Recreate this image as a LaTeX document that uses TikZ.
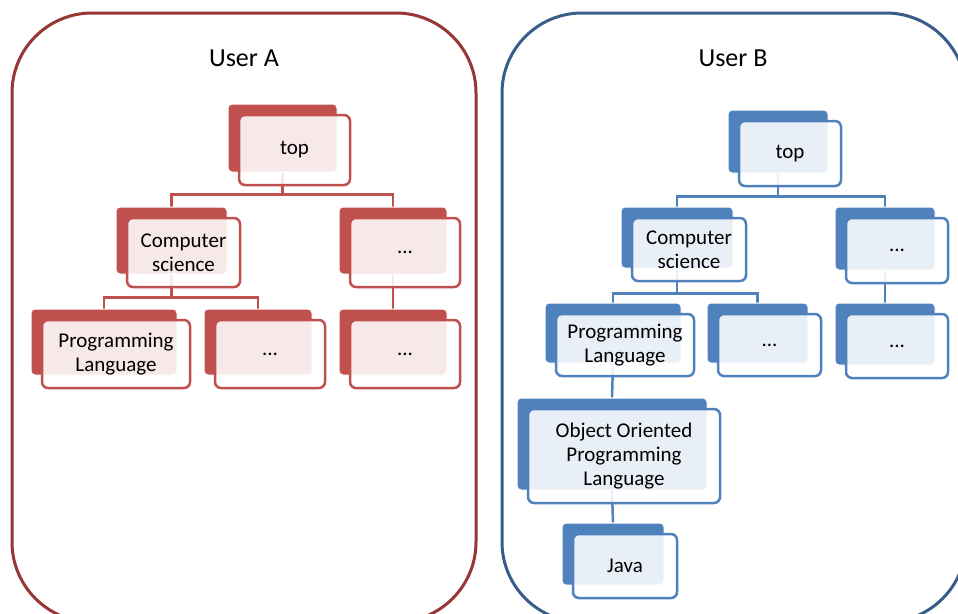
\documentclass[tikz,border=0pt]{standalone}
\usepackage{fontspec}
\setmainfont{Carlito}
\pgfdeclarelayer{bg}
\pgfsetlayers{bg,main}
\definecolor{redfill}{RGB}{192,80,77}
\definecolor{bluefill}{RGB}{79,129,189}
\definecolor{redframe}{RGB}{150,55,53}
\definecolor{blueframe}{RGB}{56,93,138}

\tikzset{
  backbox/.style={rectangle, rounded corners=4pt, draw=white, line width=1pt, inner sep=0pt},
  frontbox/.style={rectangle, rounded corners=6pt, line width=2.5pt, fill=white,
    fill opacity=0.88, text opacity=1, inner sep=0pt, align=center,
    font=\fontsize{21}{24}\selectfont},
  backA/.style={backbox, fill=redfill},
  frontA/.style={frontbox, draw=redfill},
  backB/.style={backbox, fill=bluefill},
  frontB/.style={frontbox, draw=bluefill},
  connA/.style={draw=redfill, line width=2.5pt},
  connB/.style={draw=bluefill, line width=2.5pt},
  frameA/.style={draw=redframe, line width=3pt, rounded corners=80pt},
  frameB/.style={draw=blueframe, line width=3pt, rounded corners=80pt},
  usertitle/.style={font=\fontsize{26}{30}\selectfont},
}

% #1 colour set (A/B), #2 name, #3-#6 corners of the solid back card, #7 label
\newcommand\cardpair[7]{%
  \node[back#1, minimum width={#5-#3}, minimum height={#6-#4}]
    (#2-b) at ({(#3+#5)/2},{(#4+#6)/2}) {};
  \node[front#1, minimum width={#5-#3+2}, minimum height={#6-#4+2}]
    (#2) at ({(#3+#5)/2+12},{(#4+#6)/2+12}) {#7};
}

\begin{document}
\begin{tikzpicture}[x=1pt, y=-1pt]
\useasboundingbox (0,0) rectangle (958,613);
\clip (0,0) rectangle (958,613);

% ---- User A ----
\node[usertitle] (titleA) at (244,58) {User A};
\cardpair{A}{topA}{228}{104}{337}{172}{top}
\cardpair{A}{csA}{116}{207}{227}{274}{Computer\\science}
\cardpair{A}{d1A}{339}{207}{447}{274}{...}
\cardpair{A}{plA}{31}{309}{177}{375}{Programming\\Language}
\cardpair{A}{d2A}{204}{309}{312}{375}{...}
\cardpair{A}{d3A}{339}{309}{447}{375}{...}

% ---- User B ----
\node[usertitle] (titleB) at (733,58) {User B};
\cardpair{B}{topB}{728}{110}{828}{173}{top}
\cardpair{B}{csB}{621}{207}{733}{268}{Computer\\science}
\cardpair{B}{d1B}{835}{207}{935}{270}{...}
\cardpair{B}{plB}{545}{303}{681}{363}{Programming\\Language}
\cardpair{B}{d2B}{707}{303}{808}{363}{...}
\cardpair{B}{d3B}{835}{303}{935}{365}{...}
\cardpair{B}{ooB}{517}{398}{707}{490}{Object Oriented\\Programming\\Language}
\cardpair{B}{javaB}{562}{523}{664}{585}{Java}

\begin{pgfonlayer}{bg}
  % outer frames
  \draw[frameA] (12,13) rectangle (476,622);
  \draw[frameB] (502,13) rectangle (966,622);
  % tree links, user A
  \draw[connA] (topA-b.south) -- ++(0,22) -| (csA-b.north);
  \draw[connA] (topA-b.south) -- ++(0,22) -| (d1A-b.north);
  \draw[connA] (csA-b.south) -- ++(0,23) -| (plA-b.north);
  \draw[connA] (csA-b.south) -- ++(0,23) -| (d2A-b.north);
  \draw[connA] (d1A-b.south) -- (d3A-b.north);
  % tree links, user B
  \draw[connB] (topB-b.south) -- ++(0,23) -| (csB-b.north);
  \draw[connB] (topB-b.south) -- ++(0,23) -| (d1B-b.north);
  \draw[connB] (csB-b.south) -- ++(0,25) -| (plB-b.north);
  \draw[connB] (csB-b.south) -- ++(0,25) -| (d2B-b.north);
  \draw[connB] (d1B-b.south) -- (d3B-b.north);
  \draw[connB] (plB-b.south) -- (ooB-b.north);
  \draw[connB] (ooB-b.south) -- (javaB-b.north);
\end{pgfonlayer}
\end{tikzpicture}
\end{document}
